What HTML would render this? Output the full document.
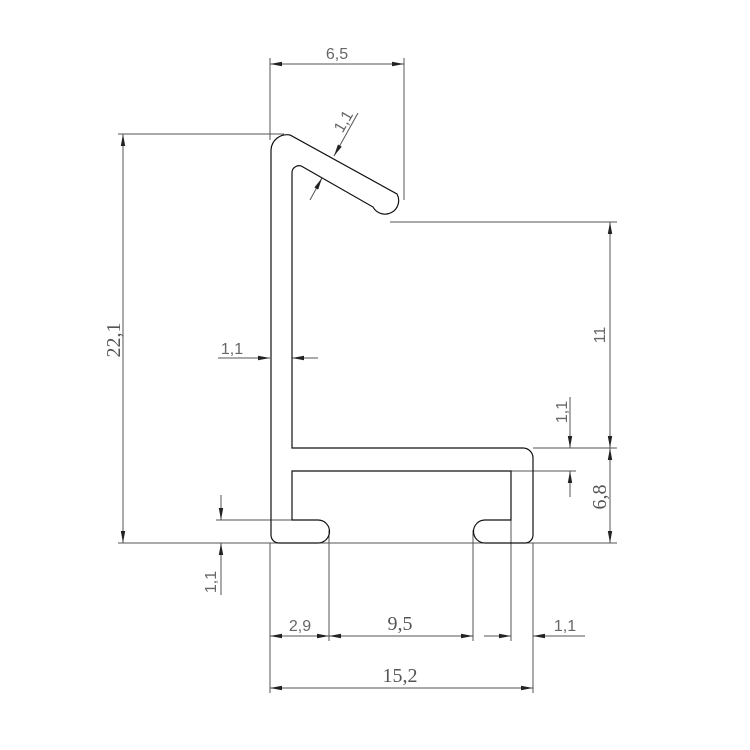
<!DOCTYPE html>
<html><head><meta charset="utf-8"><style>html,body{margin:0;padding:0;background:#fff;}svg{display:block}</style></head>
<body>
<svg width="750" height="750" viewBox="0 0 750 750" xmlns="http://www.w3.org/2000/svg">
<defs>
<marker id="a" viewBox="0 0 12 6" refX="12" refY="3" markerWidth="12" markerHeight="6" orient="auto-start-reverse" markerUnits="userSpaceOnUse"><path d="M0,0.8 L12,3 L0,5.2 z" fill="#222"/></marker>
</defs>
<g stroke="#555" stroke-width="1" fill="none">
<line x1="270" y1="58" x2="270" y2="140"/>
<line x1="404" y1="58" x2="404" y2="200"/>
<line x1="118" y1="134" x2="284" y2="134"/>
<line x1="118" y1="543" x2="617" y2="543"/>
<line x1="390" y1="222" x2="617" y2="222"/>
<line x1="533" y1="448" x2="617" y2="448"/>
<line x1="511" y1="471" x2="576" y2="471"/>
<line x1="216" y1="520" x2="292" y2="520"/>
<line x1="270" y1="543" x2="270" y2="693"/>
<line x1="533" y1="543" x2="533" y2="693"/>
<line x1="329" y1="530" x2="329" y2="641"/>
<line x1="473" y1="530" x2="473" y2="641"/>
<line x1="511" y1="471" x2="511" y2="641"/>
<line x1="270" y1="64" x2="404" y2="64" marker-start="url(#a)" marker-end="url(#a)"/>
<line x1="123" y1="134" x2="123" y2="543" marker-start="url(#a)" marker-end="url(#a)"/>
<line x1="610" y1="222" x2="610" y2="448" marker-start="url(#a)" marker-end="url(#a)"/>
<line x1="610" y1="448" x2="610" y2="543" marker-start="url(#a)" marker-end="url(#a)"/>
<line x1="570" y1="397" x2="570" y2="448" marker-end="url(#a)"/>
<line x1="570" y1="497" x2="570" y2="471" marker-end="url(#a)"/>
<line x1="221" y1="495" x2="221" y2="520" marker-end="url(#a)"/>
<line x1="221" y1="595" x2="221" y2="543" marker-end="url(#a)"/>
<line x1="218" y1="358" x2="270" y2="358" marker-end="url(#a)"/>
<line x1="318" y1="358" x2="292" y2="358" marker-end="url(#a)"/>
<line x1="270" y1="636" x2="329" y2="636" marker-start="url(#a)" marker-end="url(#a)"/>
<line x1="329" y1="636" x2="473" y2="636" marker-start="url(#a)" marker-end="url(#a)"/>
<line x1="484" y1="636" x2="511" y2="636" marker-end="url(#a)"/>
<line x1="585" y1="636" x2="533" y2="636" marker-end="url(#a)"/>
<line x1="270" y1="688" x2="533" y2="688" marker-start="url(#a)" marker-end="url(#a)"/>
<line x1="358" y1="113" x2="334" y2="156" marker-end="url(#a)"/>
<line x1="310" y1="200" x2="322" y2="178" marker-end="url(#a)"/>
</g>
<path d="M271,530 L271,150 A16,16 0 0 1 290,135 L397,194 A13,13 0 1 1 373,207 L303,167 A7,7 0 0 0 292,173 L292,448 L523,448 A10,10 0 0 1 533,458 L533,535 A8,8 0 0 1 525,543 L485,543 A11.5,11.5 0 0 1 485,520 L511,520 L511,471 L292,471 L292,520 L318,520 A11.5,11.5 0 0 1 318,543 L279,543 A8,8 0 0 1 271,535 Z" fill="none" stroke="#111" stroke-width="1.2"/>
<g fill="#666" font-family="Liberation Sans, sans-serif" font-size="16">
<text x="337" y="59" text-anchor="middle">6,5</text>
<text x="232" y="354" text-anchor="middle">1,1</text>
<text x="300" y="631" text-anchor="middle">2,9</text>
<text x="565" y="631" text-anchor="middle">1,1</text>
<text transform="translate(348,124) rotate(-60)" text-anchor="middle">1,1</text>
<text transform="translate(605,335) rotate(-90)" text-anchor="middle">11</text>
<text transform="translate(567,412) rotate(-90)" text-anchor="middle">1,1</text>
<text transform="translate(216,582) rotate(-90)" text-anchor="middle">1,1</text>
</g>
<g fill="#555" font-family="Liberation Serif, serif" font-size="20">
<text x="400" y="630" text-anchor="middle">9,5</text>
<text x="400" y="682" text-anchor="middle">15,2</text>
<text transform="translate(120,340) rotate(-90)" text-anchor="middle">22,1</text>
<text transform="translate(606,497) rotate(-90)" text-anchor="middle">6,8</text>
</g>
</svg>
</body></html>
